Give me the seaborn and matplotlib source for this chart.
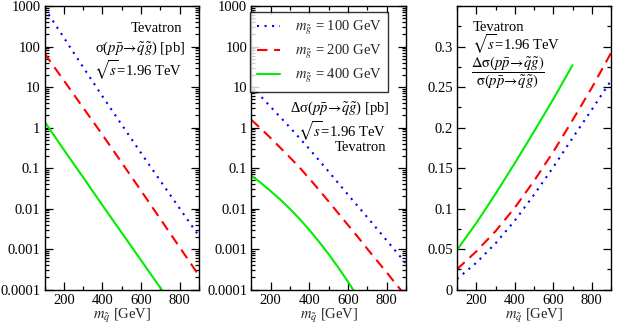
import numpy as np
import pandas as pd
import seaborn as sns
import matplotlib.pyplot as plt
from matplotlib.ticker import FixedLocator, MultipleLocator, FuncFormatter, NullFormatter

# squark masses [GeV]
msq = [100, 200, 300, 400, 500, 600, 700, 800, 900]
msq_fine = [100, 150, 200, 250, 300, 350, 400, 450, 500, 550, 600, 650, 700, 750, 800, 850, 900]
msq_green = [100, 200, 300, 400, 500, 600, 700, 800]
msq_green_d = [100, 150, 200, 250, 300, 350, 400, 450, 500, 550, 600, 650]
msq_green_r = [100, 200, 300, 400, 500, 600, 700]

# sigma(pp -> sq gl) [pb]
sig_100 = [891, 166, 30.9, 5.89, 1.17, 0.234, 0.0479, 0.0100, 0.00209]
sig_200 = [67.6, 14.5, 3.09, 0.661, 0.135, 0.0275, 0.0055, 0.0011, 0.00022]
sig_400 = [1.41, 0.282, 0.0589, 0.0120, 0.00251, 0.000525, 0.00011, 0.000023]

# delta sigma [pb]
dsig_100 = [10.5, 3.24, 1.0, 0.295, 0.0813, 0.0219, 0.00603, 0.00162, 0.000437]
dsig_200 = [1.55, 0.933, 0.550, 0.316, 0.182, 0.102, 0.0550, 0.0288, 0.0148, 0.00759,
            0.00389, 0.00200, 0.00100, 0.000513, 0.000263, 0.000132, 0.0000676]
dsig_400 = [0.0646, 0.0427, 0.0269, 0.0166, 0.00977, 0.0055, 0.00295, 0.00151,
            0.000741, 0.000347, 0.000155, 0.000066]

# ratio delta sigma / sigma
rat_100 = [0.013, 0.033, 0.057, 0.085, 0.117, 0.151, 0.187, 0.222, 0.258]
rat_200 = [0.025, 0.047, 0.072, 0.101, 0.134, 0.170, 0.209, 0.249, 0.292]
rat_400 = [0.049, 0.082, 0.118, 0.156, 0.195, 0.235, 0.277]

log_ticks = [1e-4, 1e-3, 1e-2, 1e-1, 1, 10, 100, 1000]
ratio_ticks = [0, 0.05, 0.1, 0.15, 0.2, 0.25, 0.3]

mgl_labels = ['100', '200', '400']
colors = {'100': '#0000ff', '200': '#ff0000', '400': '#00ee00'}
dashes = {'100': (1, 2.6), '200': (5, 3.2), '400': ''}

sns.set_theme(style='ticks')
plt.rcParams['font.family'] = ['Liberation Serif', 'DejaVu Serif']
plt.rcParams['mathtext.fontset'] = 'stix'
plt.rcParams['font.size'] = 10.5
plt.rcParams['axes.linewidth'] = 1.0


def make_df(x_lists, y_lists):
    rows = []
    for lab, xs, ys in zip(mgl_labels, x_lists, y_lists):
        for x, y in zip(xs, ys):
            rows.append({'msq': x, 'val': y, 'mgl': lab})
    return pd.DataFrame(rows)


def style_axis(ax, log=True):
    ax.set_xlim(100, 900)
    ax.xaxis.set_major_locator(FixedLocator([200, 400, 600, 800]))
    ax.xaxis.set_minor_locator(FixedLocator([100, 300, 500, 700, 900]))
    if log:
        ax.set_yscale('log')
        ax.set_ylim(1e-4, 1e3)
        minors = [d * k for d in log_ticks[:-1] for k in range(2, 10)]
        ax.yaxis.set_major_locator(FixedLocator(log_ticks))
        ax.yaxis.set_minor_locator(FixedLocator(minors))
        ax.yaxis.set_major_formatter(FuncFormatter(lambda v, p: '%g' % v))
        ax.yaxis.set_minor_formatter(NullFormatter())
    ax.tick_params(which='both', direction='in', top=True, right=True,
                   labelsize=10.5, color='black', labelcolor='black', width=0.9)
    ax.tick_params(which='major', length=6, pad=3)
    ax.tick_params(which='minor', length=3)
    ax.set_xlabel(r'$m_{\tilde{q}}$ [GeV]', fontsize=10.5, labelpad=0)
    ax.set_ylabel(None)
    for s in ax.spines.values():
        s.set_color('black')


fig = plt.figure(figsize=(6.27, 3.30), dpi=100)
ax1 = fig.add_axes([0.071, 0.1227, 0.2464, 0.859])
ax2 = fig.add_axes([0.4008, 0.1227, 0.2469, 0.859])
ax3 = fig.add_axes([0.7289, 0.1227, 0.2456, 0.859])

df1 = make_df([msq, msq, msq_green], [sig_100, sig_200, sig_400])
df2 = make_df([msq, msq_fine, msq_green_d], [dsig_100, dsig_200, dsig_400])
df3 = make_df([msq, msq, msq_green_r], [rat_100, rat_200, rat_400])

for ax, df in [(ax1, df1), (ax2, df2), (ax3, df3)]:
    sns.lineplot(data=df, x='msq', y='val', hue='mgl', style='mgl',
                 palette=colors, dashes=dashes, linewidth=1.5, ax=ax,
                 legend=(ax is ax2), sort=False)

style_axis(ax1)
style_axis(ax2)
style_axis(ax3, log=False)
ax3.set_ylim(0, 0.35)
ax3.yaxis.set_major_locator(FixedLocator(ratio_ticks))
ax3.yaxis.set_minor_locator(MultipleLocator(0.025))
ax3.yaxis.set_major_formatter(FuncFormatter(lambda v, p: '%g' % round(v, 3)))

# legend
h, l = ax2.get_legend_handles_labels()
leg = ax2.legend(h, [r'$m_{\tilde{g}}$ = %s GeV' % s for s in mgl_labels],
                 loc='upper right', bbox_to_anchor=(0.885, 0.978),
                 frameon=True, fancybox=False, edgecolor='black',
                 fontsize=10.5, handlelength=1.6, borderpad=0.45, labelspacing=0.42,
                 handletextpad=1.0, borderaxespad=0)
leg.get_frame().set_linewidth(1.0)

# annotations
kw = dict(fontsize=10.5, color='black')
ax1.text(0.89, 0.92, 'Tevatron', transform=ax1.transAxes, ha='right', va='center', **kw)
ax1.text(0.91, 0.85, r'σ($p\bar{p}\!\rightarrow\!\tilde{q}\tilde{g}$) [pb]',
         transform=ax1.transAxes, ha='right', va='center', **kw)
ax1.text(0.89, 0.775, r'$\sqrt{s}$=1.96 TeV', transform=ax1.transAxes, ha='right', va='center', **kw)

ax2.text(0.89, 0.64, r'Δσ($p\bar{p}\!\rightarrow\!\tilde{q}\tilde{g}$) [pb]',
         transform=ax2.transAxes, ha='right', va='center', **kw)
ax2.text(0.87, 0.56, r'$\sqrt{s}$=1.96 TeV', transform=ax2.transAxes, ha='right', va='center', **kw)
ax2.text(0.87, 0.50, 'Tevatron', transform=ax2.transAxes, ha='right', va='center', **kw)

ax3.text(0.10, 0.925, 'Tevatron', transform=ax3.transAxes, ha='left', va='center', **kw)
ax3.text(0.10, 0.865, r'$\sqrt{s}$=1.96 TeV', transform=ax3.transAxes, ha='left', va='center', **kw)
ax3.text(0.09, 0.765,
         r'$\dfrac{\Delta\mathrm{\sigma}(p\bar{p}\!\rightarrow\!\tilde{q}\tilde{g})}'
         r'{\mathrm{\sigma}(p\bar{p}\!\rightarrow\!\tilde{q}\tilde{g})}$',
         transform=ax3.transAxes, ha='left', va='center', **kw)

fig.savefig('out.png', dpi=100)
